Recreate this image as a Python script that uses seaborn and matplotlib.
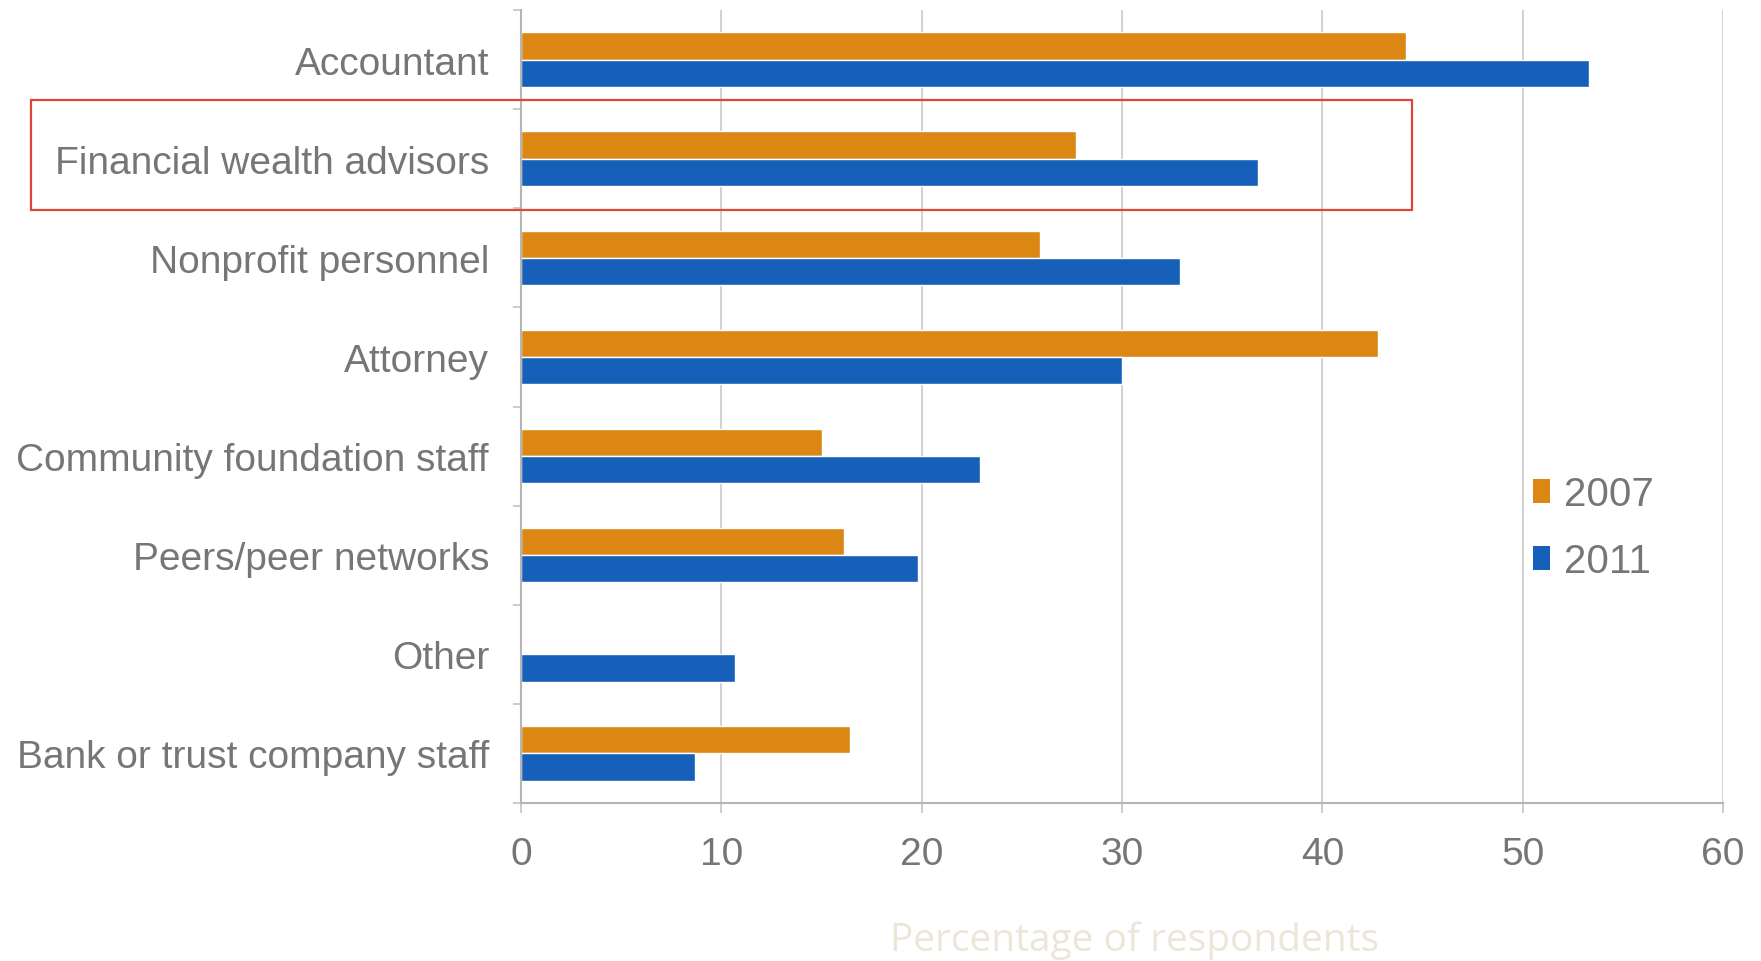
import matplotlib
matplotlib.use("Agg")
import matplotlib.pyplot as plt
import seaborn as sns
import pandas as pd
from matplotlib.patches import Rectangle, Patch
from matplotlib.ticker import FixedLocator

categories = ["Accountant", "Financial wealth advisors", "Nonprofit personnel", "Attorney",
              "Community foundation staff", "Peers/peer networks", "Other",
              "Bank or trust company staff"]
values_2007 = [44.2, 27.7, 25.9, 42.8, 15.0, 16.1, 0.0, 16.4]
values_2011 = [53.3, 36.8, 32.9, 30.0, 22.9, 19.8, 10.7, 8.7]
years = ["2007", "2011"]
x_ticks = [0, 10, 20, 30, 40, 50, 60]
x_label = "Percentage of respondents"

colors = {"2007": "#dc8614", "2011": "#1660b9"}
text_color = "#767676"

df = pd.DataFrame({
    "category": categories * 2,
    "value": values_2007 + values_2011,
    "year": [years[0]] * len(categories) + [years[1]] * len(categories),
})

sns.set_theme(style="white")
plt.rcParams["font.family"] = ["Liberation Sans", "DejaVu Sans"]

fig = plt.figure(figsize=(17.61, 9.62), dpi=100)
ax = fig.add_axes([521 / 1761, 1 - 804 / 962, (1723 - 521) / 1761, (804 - 11) / 962])

sns.barplot(data=df, x="value", y="category", hue="year", order=categories,
            hue_order=years, palette=colors, width=0.55, orient="h",
            saturation=1, legend=False, ax=ax, errorbar=None)

ax.set_xlim(0, 60)
ax.set_ylim(len(categories) - 0.5, -0.5)
ax.set_xticks(x_ticks)
ax.set_xticklabels([str(t) for t in x_ticks])
ax.grid(axis="x", color="#c9c9c9", linewidth=1.2)
ax.grid(axis="y", visible=False)
ax.set_axisbelow(True)

for s in ["top", "right"]:
    ax.spines[s].set_visible(False)
for s in ["left", "bottom"]:
    ax.spines[s].set_visible(True)
    ax.spines[s].set_color("#b5b5b5")
    ax.spines[s].set_linewidth(1.5)

ax.yaxis.set_minor_locator(FixedLocator([i - 0.5 for i in range(len(categories) + 1)]))
ax.tick_params(axis="y", which="major", length=0, pad=23, labelsize=28, labelcolor=text_color)
ax.tick_params(axis="y", which="minor", length=6, width=1.2, color="#c4c4c4", left=True)
ax.tick_params(axis="x", which="major", length=7, width=1.2, color="#c4c4c4", bottom=True,
               pad=17, labelsize=28, labelcolor=text_color)
ax.set_ylabel("")
ax.set_xlabel("")

fig.text(1135 / 1761, 1 - 941 / 962, x_label, ha="center", va="center",
         fontsize=28, color="#ebe6d8", family=["Open Sans", "DejaVu Sans"])

handles = [Patch(facecolor=colors[y], edgecolor="none") for y in years]
leg = ax.legend(handles, years, loc="center left", bbox_to_anchor=(0.812, 0.347),
                frameon=False, fontsize=29, handletextpad=0.35, labelspacing=0.72,
                handlelength=0.42, handleheight=0.55)
for t in leg.get_texts():
    t.set_color(text_color)

rect = Rectangle((31 / 1761, 1 - 211 / 962), (1412 - 31) / 1761, (211 - 101) / 962,
                 transform=fig.transFigure, fill=False, edgecolor="#e0453a",
                 linewidth=1.6, zorder=10)
fig.patches.append(rect)

fig.savefig("out.png", dpi=100)
